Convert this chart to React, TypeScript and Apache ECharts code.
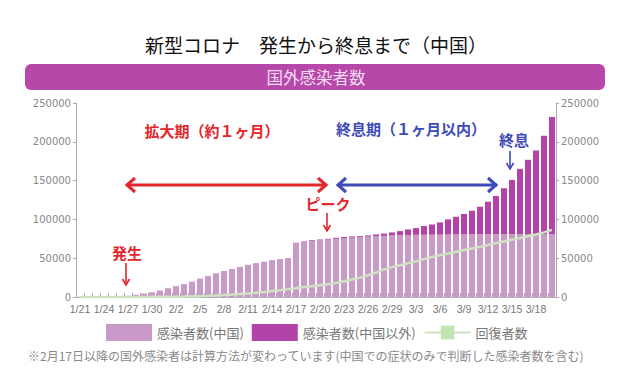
import React, { useEffect, useRef } from 'react';
import * as echarts from 'echarts';

const dates = [
  '1/21','1/22','1/23','1/24','1/25','1/26','1/27','1/28','1/29','1/30','1/31',
  '2/1','2/2','2/3','2/4','2/5','2/6','2/7','2/8','2/9','2/10','2/11','2/12','2/13','2/14','2/15','2/16','2/17','2/18','2/19','2/20',
  '2/21','2/22','2/23','2/24','2/25','2/26','2/27','2/28','2/29',
  '3/1','3/2','3/3','3/4','3/5','3/6','3/7','3/8','3/9','3/10','3/11','3/12','3/13','3/14','3/15','3/16','3/17','3/18','3/19','3/20'
];

const chinaCases = [
  300, 400, 550, 650, 800, 1000, 1500, 2800, 4300, 6000, 8200,
  11200, 13800, 16400, 19400, 23300, 26700, 30200, 33200, 35800, 38400, 41000, 43100, 44800, 46800, 48100, 49400, 69000, 70700, 72400, 73100,
  74000, 75000, 75900, 76500, 77000, 77800, 78400, 78800, 79300,
  79600, 79900, 80100, 80200, 80300, 80400, 80500, 80600, 80650, 80700, 80750, 80800, 80820, 80840, 80860, 80880, 80890, 80920, 80960, 81000
];

const otherCases = [
  5, 10, 20, 30, 40, 50, 60, 70, 90, 100, 130,
  150, 170, 190, 210, 230, 270, 300, 320, 340, 380, 400, 440, 500, 550, 600, 600, 800, 800, 900, 1000,
  1000, 1300, 1400, 1500, 1400, 1500, 2200, 2900, 3900,
  5300, 7200, 8700, 11200, 13200, 15700, 19500, 22800, 26350, 30500, 35650, 42000, 49380, 59360, 70040, 84220, 95910, 107880, 126840, 151000
];

const recovered = [
  30, 30, 35, 40, 50, 60, 100, 120, 130, 170, 230,
  300, 480, 630, 870, 1100, 1500, 2000, 2600, 3200, 3900, 4600, 5400, 6500, 7700, 8800, 10000, 11300, 12800, 14000, 15100,
  16500, 18000, 20200, 22500, 25000, 28000, 31500, 35500, 38500,
  41000, 43500, 46000, 48800, 51500, 53900, 56000, 58300, 60500, 62600, 64600, 66900, 69200, 71500, 73700, 75900, 78200, 80500, 83300, 86500
];

const seriesNames = ['感染者数(中国)', '感染者数(中国以外)', '回復者数'];
const titleText = '新型コロナ　発生から終息まで（中国）';
const bannerText = '国外感染者数';
const footnote = '※2月17日以降の国外感染者は計算方法が変わっています(中国での症状のみで判断した感染者数を含む)';

const RED = '#e3262c';
const BLUE = '#3d4ab8';
const CJK = "'Noto Sans CJK JP', 'Noto Sans', sans-serif";

function hArrow(x1: number, x2: number, y: number, color: string) {
  return [
    { type: 'line', shape: { x1, y1: y, x2, y2: y }, style: { stroke: color, lineWidth: 3 } },
    { type: 'polyline', shape: { points: [[x1 + 9, y - 7], [x1 + 1, y], [x1 + 9, y + 7]] }, style: { stroke: color, lineWidth: 3, fill: null } },
    { type: 'polyline', shape: { points: [[x2 - 9, y - 7], [x2 - 1, y], [x2 - 9, y + 7]] }, style: { stroke: color, lineWidth: 3, fill: null } },
  ];
}

function vArrow(x: number, y1: number, y2: number, color: string) {
  return [
    { type: 'line', shape: { x1: x, y1, x2: x, y2 }, style: { stroke: color, lineWidth: 1.6 } },
    { type: 'polyline', shape: { points: [[x - 3.5, y2 - 6], [x, y2], [x + 3.5, y2 - 6]] }, style: { stroke: color, lineWidth: 1.6, fill: null } },
  ];
}

function label(text: string, x: number, y: number, color: string) {
  return {
    type: 'text', x, y,
    style: { text, fill: color, font: `bold 15px ${CJK}`, align: 'center', verticalAlign: 'middle' },
  };
}

export default function App() {
  const ref = useRef<HTMLDivElement>(null);
  useEffect(() => {
    document.body.style.margin = '0';
    const chart = echarts.init(ref.current!, null, { renderer: 'svg' });
    const yAxisBase = {
      type: 'value',
      min: 0,
      max: 250000,
      interval: 50000,
      splitLine: { show: false },
      axisLine: { show: true, lineStyle: { color: '#aaaaaa' } },
      axisTick: { show: true, length: 3, lineStyle: { color: '#aaaaaa' } },
      axisLabel: {
        color: '#888888', fontSize: 10, fontFamily: 'DejaVu Sans', margin: 5,
        formatter: (v: number) => String(v),
      },
    };
    chart.setOption({
      animation: false,
      backgroundColor: '#ffffff',
      grid: { left: 76, right: 65, top: 103, bottom: 91, containLabel: false },
      legend: {
        data: [
          { name: seriesNames[0], icon: 'rect' },
          { name: seriesNames[1], icon: 'rect' },
          { name: seriesNames[2] },
        ],
        left: 106,
        top: 324,
        padding: 0,
        itemWidth: 46,
        itemHeight: 17,
        itemGap: 8,
        textStyle: { color: '#777777', fontSize: 13, fontFamily: CJK },
      },
      xAxis: {
        type: 'category',
        data: dates,
        boundaryGap: true,
        axisLine: { lineStyle: { color: '#b0b0b0' } },
        axisTick: { show: true, inside: true, length: 4, interval: 0, lineStyle: { color: '#aaaaaa' } },
        axisLabel: {
          interval: 2,
          color: '#777777',
          fontSize: 10.5,
          fontFamily: "'Liberation Sans Narrow', 'Arial Narrow', 'Liberation Sans', sans-serif",
          margin: 6,
        },
      },
      yAxis: [
        { ...yAxisBase, position: 'left' },
        { ...yAxisBase, position: 'right' },
      ],
      series: [
        {
          name: seriesNames[0],
          type: 'bar',
          stack: 'cases',
          data: chinaCases,
          barCategoryGap: '25%',
          itemStyle: { color: '#c99ac7' },
        },
        {
          name: seriesNames[1],
          type: 'bar',
          stack: 'cases',
          data: otherCases,
          barCategoryGap: '25%',
          itemStyle: { color: '#b343a8' },
        },
        {
          name: seriesNames[2],
          type: 'line',
          data: recovered,
          symbol: 'rect',
          symbolSize: 9,
          showSymbol: false,
          z: 5,
          itemStyle: { color: '#bfe6b0' },
          lineStyle: { color: '#cfe2c2', width: 2.5 },
        },
      ],
      graphic: [
        {
          type: 'text', x: 316, y: 44,
          style: { text: titleText, fill: '#111111', font: `19px ${CJK}`, align: 'center', verticalAlign: 'middle' },
        },
        {
          type: 'rect', shape: { x: 25, y: 64, width: 580, height: 26, r: 6 },
          style: { fill: '#b548a9' },
        },
        {
          type: 'text', x: 316, y: 77,
          style: { text: bannerText, fill: '#f6dcf3', font: `16.5px ${CJK}`, align: 'center', verticalAlign: 'middle' },
        },
        {
          type: 'text', x: 28, y: 355,
          style: { text: footnote, fill: '#8a8a8a', font: `12px ${CJK}`, align: 'left', verticalAlign: 'middle' },
        },
        label('拡大期（約１ヶ月）', 212, 130, RED),
        label('終息期（１ヶ月以内）', 411, 128, BLUE),
        label('ピーク', 328, 203, RED),
        label('発生', 127, 252, RED),
        label('終息', 514, 139, BLUE),
        ...hArrow(126, 327, 185, RED),
        ...hArrow(337, 497, 185, BLUE),
        ...vArrow(327, 213, 231, RED),
        ...vArrow(126, 263, 285, RED),
        ...vArrow(510, 151, 169, BLUE),
      ],
    });
    return () => chart.dispose();
  }, []);
  return <div ref={ref} style={{ width: 621, height: 388 }} />;
}
